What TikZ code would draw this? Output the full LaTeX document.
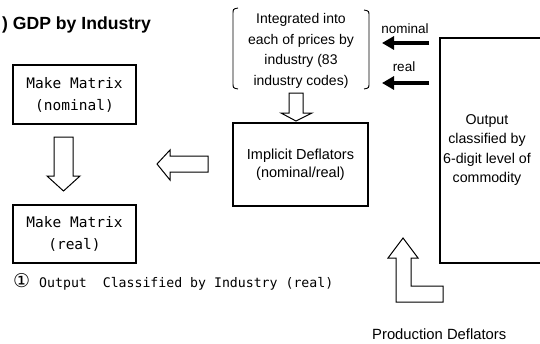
\documentclass[tikz,border=0pt]{standalone}
\usepackage{fontspec}
\usetikzlibrary{arrows.meta}
\setmainfont{Liberation Sans}
\newfontfamily\monof{DejaVu Sans Mono}
\newfontfamily\symf{DejaVu Sans}
\begin{document}
\begin{tikzpicture}[x=1pt,y=-1pt,
  box/.style={draw,line width=1.3pt},
  hollow/.style={draw,line width=1pt,fill=white,line join=miter},
  monotxt/.style={font=\monof\fontsize{14.5}{22}\selectfont,align=center,inner sep=0pt},
  proptxt/.style={font=\fontsize{14.2}{19.5}\selectfont,align=center,inner sep=0pt},
  thickarr/.style={line width=3.2pt,-{Triangle[length=12pt,width=13pt]}}
]
\useasboundingbox (0,0) rectangle (540,343);
% title
\node[anchor=base west,inner sep=0pt,font=\bfseries\fontsize{17.6}{17.6}\selectfont] (title) at (2,29) {) GDP by Industry};
% make matrix boxes
\node[box,minimum width=123pt,minimum height=59pt] (mmn) at (74.5,94.5) {};
\node[monotxt] (mmnt) at (mmn.center) {Make Matrix\\(nominal)};
\node[box,minimum width=123pt,minimum height=58pt] (mmr) at (74.5,234) {};
\node[monotxt] (mmrt) at (mmr.center) {Make Matrix\\(real)};
% caption
\node[anchor=base west,inner sep=0pt,font=\monof\fontsize{13.2}{13.2}\selectfont] (cap) at (13,287) {{\symf\fontsize{19}{19}\selectfont ①}\hspace{9pt}Output\ \ Classified by Industry (real)};
% down hollow arrow between make matrices
\draw[hollow] (54,137) -- (73,137) -- (73,176) -- (80,176) -- (63.5,191) -- (47,176) -- (54,176) -- cycle;
% implicit deflators box
\node[box,minimum width=135pt,minimum height=83pt] (imp) at (300.5,164.5) {};
\node[proptxt,font=\fontsize{14.5}{18.5}\selectfont] (impt) at (imp.center) {Implicit Deflators\\(nominal/real)};
% left hollow arrow
\draw[hollow] (208,156) -- (208,172) -- (170,172) -- (170,180) -- (157,164) -- (170,150) -- (170,156) -- cycle;
% bracket text
\node[proptxt,font=\fontsize{14}{20.7}\selectfont] (integ) at (301,51) {Integrated into\\each of prices by\\industry (83\\industry codes)};
\draw[line width=0.9pt] (238,8) .. controls (233,9) .. (233,14) -- (233,83) .. controls (233,88) .. (238,89);
\draw[line width=0.9pt] (364,10) .. controls (369,11) .. (369,16) -- (369,83) .. controls (369,88) .. (364,89);
% small down arrow
\draw[hollow] (289,93) -- (303,93) -- (303,113) -- (312,113) -- (296,121) -- (281,113) -- (289,113) -- cycle;
% output box (clipped at right)
\coordinate (otl) at (440,38);
\coordinate (otr) at (545,38);
\coordinate (obl) at (440,263);
\coordinate (obr) at (545,263);
\draw[box] (otr) -- (otl) -- (obl) -- (obr);
\node[proptxt] (outt) at (487,150) {Output\\classified by\\6-digit level of\\commodity};
% nominal / real arrows
\node[proptxt,anchor=base,font=\fontsize{13.5}{13.5}\selectfont] (nom) at (405,33) {nominal};
\node[proptxt,anchor=base,font=\fontsize{13.5}{13.5}\selectfont] (rea) at (404,71) {real};
\coordinate (na) at (429,43);
\coordinate (nb) at (382,43);
\coordinate (ra) at (429,83);
\coordinate (rb) at (382,83);
\draw[thickarr] (na) -- (nb);
\draw[thickarr] (ra) -- (rb);
% bent up arrow
\draw[hollow] (403,238) -- (418,258) -- (411,258) -- (411,286) -- (443,286) -- (443,302) -- (396,302) -- (396,258) -- (388,258) -- cycle;
\node[proptxt,anchor=base west,font=\fontsize{14.8}{14.8}\selectfont] (prod) at (372,339) {Production Deflators};
\end{tikzpicture}
\end{document}
